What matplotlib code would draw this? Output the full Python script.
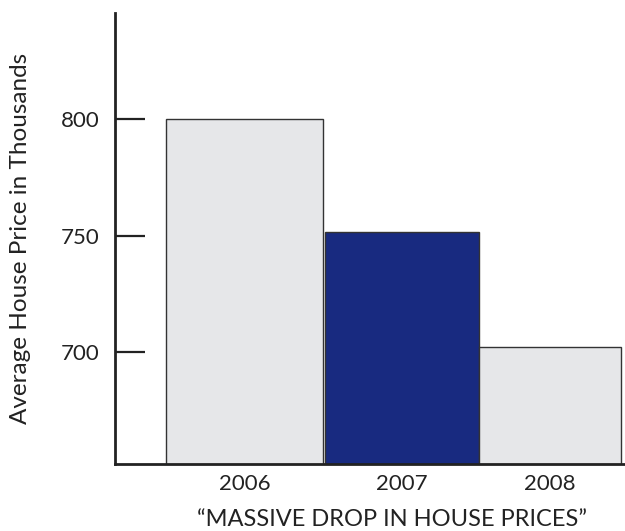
import numpy as np
import matplotlib
matplotlib.use("Agg")
import matplotlib.pyplot as plt

plt.rcParams['font.family'] = ['Lato', 'DejaVu Sans']

years = ["2006", "2007", "2008"]
prices = [800, 751.5, 702]
bar_colors = ["#e6e7e9", "#182a80", "#e6e7e9"]
y_ticks = [700, 750, 800]

fig = plt.figure(figsize=(6.25, 5.31), dpi=100)
ax = fig.add_axes([0.184, 0.126, 0.816, 0.8495])

lefts = [0.0, 1.013, 2.0]
widths = [1.0, 0.987, 0.904]
ax.bar(lefts, prices, width=widths, align='edge', color=bar_colors,
       edgecolor="#333333", linewidth=1.0, zorder=2)

ax.set_xlim(-0.327, 2.93)
ax.set_ylim(651.9, 845.5)

centers = [l + w / 2 for l, w in zip(lefts, widths)]
ax.set_xticks(centers)
ax.set_xticklabels(years, fontsize=16, color="#222222")
ax.tick_params(axis='x', length=0, pad=7)

ax.set_yticks(y_ticks)
ax.set_yticklabels([str(v) for v in y_ticks], fontsize=16, color="#222222")
ax.tick_params(axis='y', direction='in', length=21.5, width=1.6, pad=11, color="#222222")

for side in ['top', 'right']:
    ax.spines[side].set_visible(False)
for side in ['left', 'bottom']:
    ax.spines[side].set_linewidth(2)
    ax.spines[side].set_color("#222222")
    ax.spines[side].set_zorder(3)

ax.set_xlabel("\u201cMASSIVE DROP IN HOUSE PRICES\u201d", fontsize=17, color="#222222")
ax.xaxis.set_label_coords(0.543, -0.099)
ax.set_ylabel("Average House Price in Thousands", fontsize=17.5, color="#222222")
ax.yaxis.set_label_coords(-0.165, 0.5)

fig.savefig("out.png", dpi=100)
